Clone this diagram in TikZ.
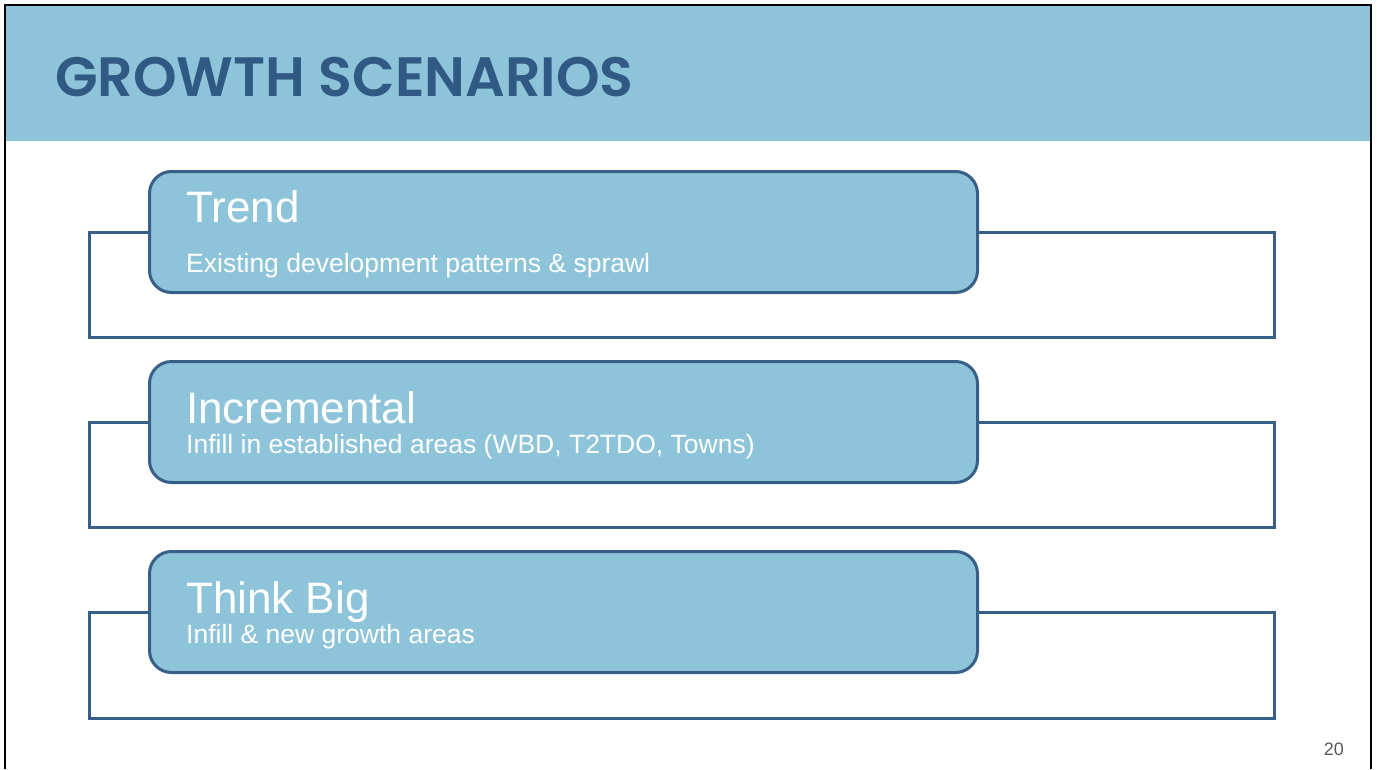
\documentclass[tikz,border=0pt]{standalone}
\usepackage{fontspec}
\setmainfont{Liberation Sans}
\newfontfamily\titlefont{Poppins}[BoldFont={Poppins SemiBold}]
\usetikzlibrary{positioning, calc}
\definecolor{slideblue}{HTML}{8DC4D9}
\definecolor{edgeblue}{HTML}{375F88}
\definecolor{titleblue}{HTML}{305A84}
\tikzset{
  frame/.style={draw=edgeblue, line width=3pt},
  scen/.style={rectangle, draw=edgeblue, line width=3pt, fill=slideblue,
               rounded corners=22pt, minimum width=828pt, minimum height=121pt},
  head/.style={anchor=base west, inner sep=0pt, text=white,
               font=\fontsize{44}{46}\selectfont},
  sub/.style={anchor=base west, inner sep=0pt, text=white,
              font=\fontsize{26.5}{28}\selectfont},
}
\begin{document}
\begin{tikzpicture}[x=1pt, y=-1pt]
  \useasboundingbox (0,0) rectangle (1377,769);
  % slide and header band
  \fill[white] (0,0) rectangle (1377,769);
  \fill[slideblue] (6,6) rectangle (1370,141);
  \draw[black, line width=2.5pt] (5,769) -- (5,5) -- (1371,5) -- (1371,769);
  \node[anchor=base west, inner sep=0pt, text=titleblue,
        font=\titlefont\bfseries\fontsize{55.5}{58}\selectfont] (title)
    at (55,96) {GROWTH SCENARIOS};

  % scenario frames
  \draw[frame] (89,232) rectangle (1274,337);
  \draw[frame] (89,422) rectangle (1274,527);
  \draw[frame] (89,612) rectangle (1274,718);

  % scenario boxes
  \node[scen] (trend) at (563.5,232) {};
  \node[scen] (incr)  at (563.5,422) {};
  \node[scen] (big)   at (563.5,612) {};

  \node[head] (trendH) at ($(trend.west)+(38,-10)$) {Trend};
  \node[sub]  (trendS) at ($(trend.west)+(38,40)$)  {Existing development patterns \& sprawl};

  \node[head] (incrH) at ($(incr.west)+(38,1)$)  {Incremental};
  \node[sub]  (incrS) at ($(incr.west)+(38,31)$) {Infill in established areas (WBD, T2TDO, Towns)};

  \node[head] (bigH) at ($(big.west)+(38,1)$)  {Think Big};
  \node[sub]  (bigS) at ($(big.west)+(38,31)$) {Infill \& new growth areas};

  \node[anchor=base east, inner sep=0pt, text=black!65,
        font=\fontsize{18}{20}\selectfont] (page) at (1344,755) {20};
\end{tikzpicture}
\end{document}
